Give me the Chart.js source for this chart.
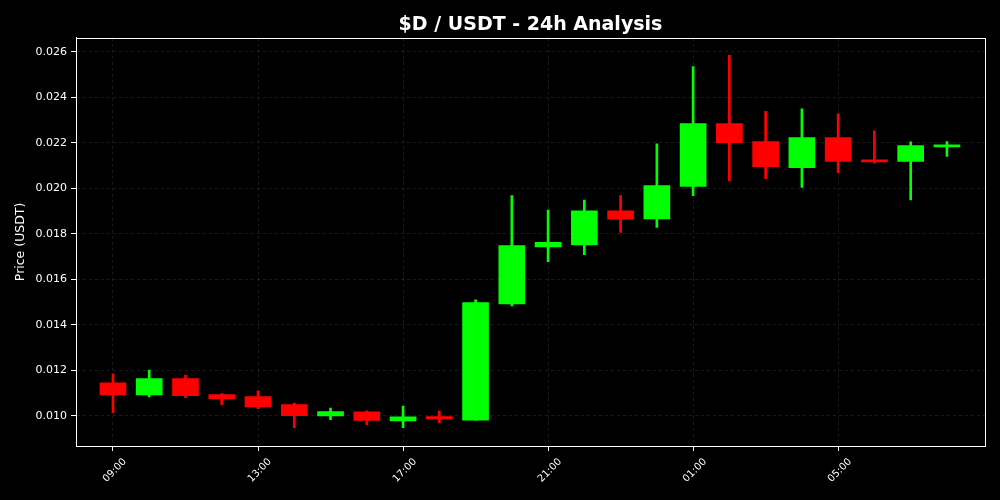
<!DOCTYPE html>
<html>
<head>
<meta charset="utf-8">
<script src="https://cdn.jsdelivr.net/npm/chart.js@4"></script>
<style>
  html, body { margin: 0; padding: 0; background: #000; }
  canvas { display: block; }
</style>
</head>
<body>
<canvas id="chart" width="1000" height="500"></canvas>
<script>
// ===== data =====
const hours = ["09:00", "10:00", "11:00", "12:00", "13:00", "14:00", "15:00", "16:00",
  "17:00", "18:00", "19:00", "20:00", "21:00", "22:00", "23:00", "00:00",
  "01:00", "02:00", "03:00", "04:00", "05:00", "06:00", "07:00", "08:00"];

const opens  = [0.01146, 0.01092, 0.01164, 0.01094, 0.01085, 0.01050, 0.01000, 0.01018,
  0.00978, 0.00997, 0.00982, 0.01492, 0.01743, 0.01752, 0.01901, 0.01866,
  0.02008, 0.02285, 0.02206, 0.02091, 0.02223, 0.02125, 0.02118, 0.02182];
const closes = [0.01092, 0.01164, 0.01089, 0.01075, 0.01040, 0.01001, 0.01019, 0.00980,
  0.00996, 0.00987, 0.01498, 0.01749, 0.01763, 0.01901, 0.01865, 0.02012,
  0.02285, 0.02201, 0.02095, 0.02223, 0.02118, 0.02116, 0.02188, 0.02191];
const highs  = [0.01185, 0.01202, 0.01180, 0.01098, 0.01110, 0.01057, 0.01035, 0.01023,
  0.01044, 0.01022, 0.01510, 0.01968, 0.01905, 0.01949, 0.01968, 0.02196,
  0.02535, 0.02584, 0.02338, 0.02349, 0.02327, 0.02253, 0.02204, 0.02206];
const lows   = [0.01015, 0.01084, 0.01080, 0.01050, 0.01032, 0.00949, 0.00984, 0.00962,
  0.00949, 0.00971, 0.00982, 0.01484, 0.01678, 0.01709, 0.01806, 0.01828,
  0.01968, 0.02033, 0.02043, 0.02004, 0.02069, 0.02111, 0.01949, 0.02140];

const tickLabels = ["09:00", "13:00", "17:00", "21:00", "01:00", "05:00"];

const UP = "#00ff00";
const DOWN = "#ff0000";
const colors = opens.map((o, i) => closes[i] >= o ? UP : DOWN);

// white box round the plot area
const frame = {
  id: "frame",
  afterDraw(chart) {
    const { ctx, chartArea: a } = chart;
    ctx.save();
    ctx.strokeStyle = "#ffffff";
    ctx.lineWidth = 1;
    ctx.strokeRect(Math.round(a.left) + 0.5, Math.round(a.top) + 0.5,
      Math.round(a.right - a.left), Math.round(a.bottom - a.top));
    ctx.restore();
  }
};

const font = "'DejaVu Sans', sans-serif";
const gridColor = "rgba(255,255,255,0.1)";

new Chart(document.getElementById("chart"), {
  type: "bar",
  data: {
    datasets: [
      {
        label: "body",
        data: hours.map((h, i) => ({ x: i, y: [opens[i], closes[i]] })),
        backgroundColor: colors,
        barThickness: 26,
        minBarLength: 2,
        grouped: false,
        borderWidth: 0
      },
      {
        label: "wick",
        data: hours.map((h, i) => ({ x: i, y: [lows[i], highs[i]] })),
        backgroundColor: colors,
        barThickness: 2,
        grouped: false,
        borderWidth: 0
      }
    ]
  },
  options: {
    responsive: false,
    animation: false,
    devicePixelRatio: 1,
    layout: { padding: { left: 0, right: 15, top: 0, bottom: 0 } },
    plugins: {
      legend: { display: false },
      tooltip: { enabled: false },
      title: {
        display: true,
        text: "$D / USDT - 24h Analysis",
        color: "#ffffff",
        fullSize: false,
        font: { family: font, size: 19, weight: "bold" },
        padding: { top: 14, bottom: 1 }
      }
    },
    scales: {
      x: {
        type: "linear",
        offset: false,
        min: -1.02,
        max: 24.05,
        afterBuildTicks: axis => {
          axis.ticks = tickLabels.map(l => ({ value: hours.indexOf(l) }));
        },
        afterFit: scale => { scale.height = 54; },
        ticks: {
          color: "#ffffff",
          font: { family: font, size: 10 },
          autoSkip: false,
          maxRotation: 45,
          minRotation: 45,
          padding: 5,
          labelOffset: 12,
          callback: v => hours[v]
        },
        grid: {
          offset: false,
          color: gridColor,
          tickColor: "#ffffff",
          tickLength: 5
        },
        border: { color: "#ffffff", dash: [3, 3] }
      },
      y: {
        min: 0.008681,
        max: 0.026615,
        afterFit: scale => { scale.width = 76; },
        ticks: {
          stepSize: 0.002,
          includeBounds: false,
          color: "#ffffff",
          font: { family: font, size: 11 },
          padding: 4,
          callback: v => v.toFixed(3)
        },
        grid: {
          color: gridColor,
          tickColor: "#ffffff",
          tickLength: 5
        },
        border: { color: "#ffffff", dash: [3, 3] },
        title: {
          display: true,
          text: "Price (USDT)",
          color: "#ffffff",
          font: { family: font, size: 12.5 },
          padding: { top: 13, bottom: 0 }
        }
      }
    }
  },
  plugins: [frame]
});
</script>
</body>
</html>
